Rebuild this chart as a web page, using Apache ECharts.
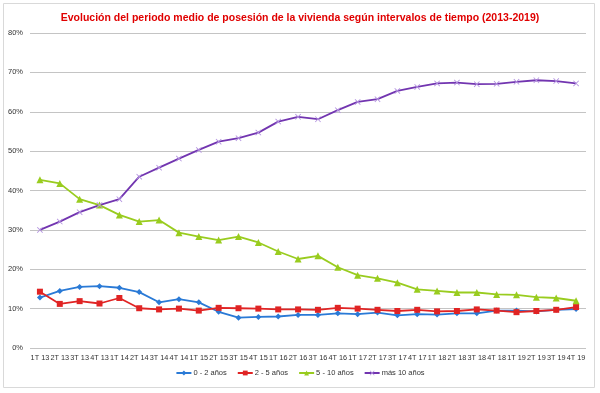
<!DOCTYPE html>
<html><head><meta charset="utf-8">
<script src="https://cdn.jsdelivr.net/npm/echarts@6/dist/echarts.min.js"></script>
<style>html,body{margin:0;padding:0;background:#fff}#c{width:600px;height:393px}</style>
</head><body><div id="c"></div>
<script>
const categories = ["1T 13","2T 13","3T 13","4T 13","1T 14","2T 14","3T 14","4T 14","1T 15","2T 15","3T 15","4T 15","1T 16","2T 16","3T 16","4T 16","1T 17","2T 17","3T 17","4T 17","1T 18","2T 18","3T 18","4T 18","1T 19","2T 19","3T 19","4T 19"];
const s0_2 = [12.8,14.5,15.5,15.7,15.3,14.2,11.6,12.4,11.6,9.2,7.7,7.9,8.0,8.4,8.4,8.8,8.6,9.0,8.3,8.6,8.5,8.8,8.8,9.5,9.5,9.3,9.7,9.9];
const s2_5 = [14.3,11.2,11.9,11.3,12.7,10.1,9.8,10.0,9.5,10.2,10.1,10.0,9.8,9.8,9.7,10.2,10.0,9.7,9.4,9.7,9.3,9.4,9.8,9.5,9.1,9.4,9.7,10.4];
const s5_10 = [42.7,41.8,37.8,36.3,33.8,32.1,32.5,29.3,28.3,27.4,28.3,26.8,24.5,22.6,23.4,20.5,18.5,17.7,16.6,14.9,14.5,14.1,14.1,13.6,13.5,12.9,12.7,12.0];
const s10 = [30.0,32.1,34.5,36.3,37.8,43.5,45.8,48.1,50.3,52.4,53.3,54.7,57.5,58.7,58.1,60.4,62.5,63.2,65.3,66.3,67.2,67.4,67.0,67.1,67.6,68.0,67.8,67.2];
const seriesNames = ["0 - 2 años","2 - 5 años","5 - 10 años","más 10 años"];
const titleText = "Evolución del periodo medio de posesión de la vivienda según intervalos de tiempo (2013-2019)";

const xSym = 'path://M0,1L1,0L5,4L9,0L10,1L6,5L10,9L9,10L5,6L1,10L0,9L4,5Z';
const font = 'Liberation Sans, Arial, sans-serif';
function mk(name, data, color, symbol, size, itemColor){
  return {name, type:'line', data, symbol, symbolSize:size, showSymbol:true,
    lineStyle:{color, width:1.8}, itemStyle:{color:itemColor||color}, color};
}
const chart = echarts.init(document.getElementById('c'), null, {renderer:'canvas'});
chart.setOption({
  animation:false,
  graphic:[{type:'rect', shape:{x:3.5,y:3.5,width:591,height:384}, style:{fill:'none', stroke:'#d9d9d9', lineWidth:1}}],
  title:{text:titleText, left:'center', top:8, textStyle:{color:'#e00000', fontSize:10.5, fontWeight:'bold', fontFamily:font}},
  legend:{bottom:11, left:'center', itemWidth:15, itemHeight:6, itemGap:10,
    textStyle:{fontSize:7.5, color:'#333', fontFamily:font, padding:[0,0,0,-3]}, data:seriesNames},
  grid:{left:30, right:14, top:33, bottom:45, containLabel:false},
  xAxis:{type:'category', data:categories, boundaryGap:true,
    axisLine:{show:false}, axisTick:{show:false},
    axisLabel:{interval:0, fontSize:7.3, color:'#333', fontFamily:font, margin:6}},
  yAxis:{type:'value', min:0, max:80, interval:10,
    axisLabel:{formatter:'{value}%', fontSize:7.5, color:'#333', fontFamily:font, margin:7},
    splitLine:{lineStyle:{color:'#c4c4c4', width:1.2}}},
  series:[
    mk(seriesNames[0], s0_2, '#2a7ad6', 'diamond', 6),
    mk(seriesNames[1], s2_5, '#e02424', 'rect', 6),
    mk(seriesNames[2], s5_10, '#99cc1f', 'triangle', 7),
    mk(seriesNames[3], s10, '#7235b0', xSym, 6, '#b494e0')
  ]
});
</script></body></html>
